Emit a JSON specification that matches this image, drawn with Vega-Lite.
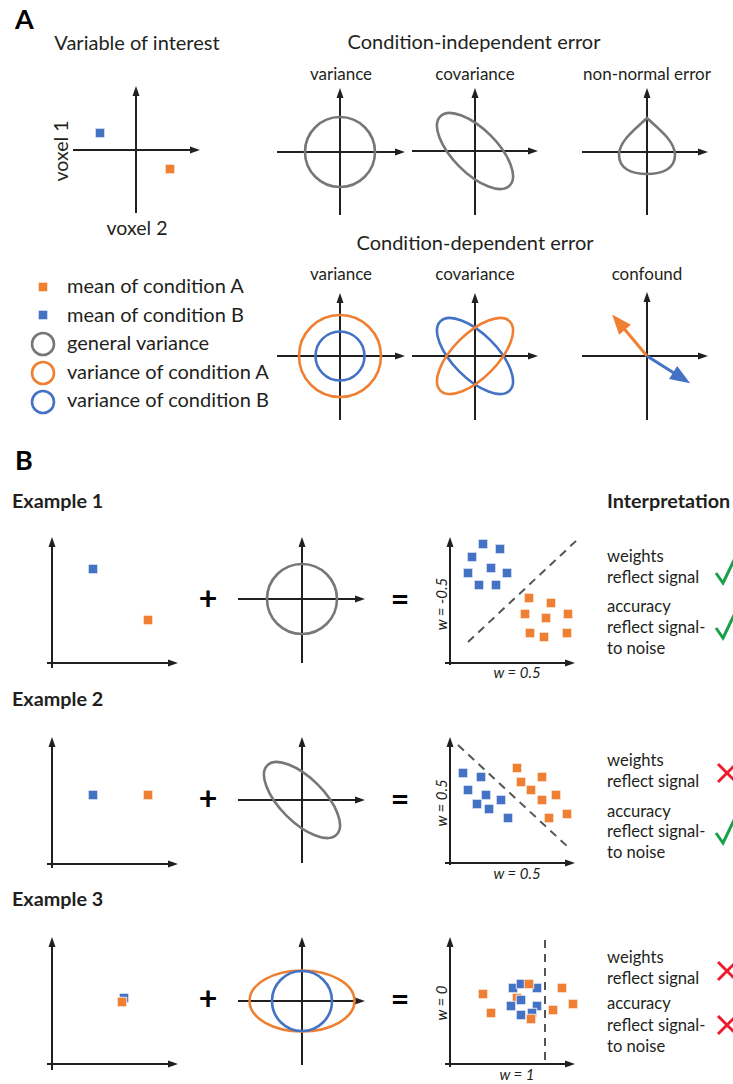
{
"$schema":"https://vega.github.io/schema/vega-lite/v6.json",
"width":733,"height":1084,"padding":0,"autosize":{"type":"none"},
"background":"#ffffff",
"config":{"view":{"stroke":null},"font":"Lato"},
"datasets":{
"axes":[
{"x":136,"y":213,"x2":136,"y2":89,"ang":270},{"x":73,"y":150,"x2":197,"y2":150,"ang":0},
{"x":340,"y":215,"x2":340,"y2":91,"ang":270},{"x":277,"y":152,"x2":402,"y2":152,"ang":0},
{"x":475,"y":215,"x2":475,"y2":91,"ang":270},{"x":412,"y":151,"x2":535,"y2":151,"ang":0},
{"x":647,"y":215,"x2":647,"y2":91,"ang":270},{"x":582,"y":152,"x2":705,"y2":152,"ang":0},
{"x":340,"y":420,"x2":340,"y2":296,"ang":270},{"x":277,"y":356,"x2":402,"y2":356,"ang":0},
{"x":475,"y":420,"x2":475,"y2":296,"ang":270},{"x":412,"y":356,"x2":535,"y2":356,"ang":0},
{"x":647,"y":420,"x2":647,"y2":295,"ang":270},{"x":582,"y":356,"x2":705,"y2":356,"ang":0},
{"x":52,"y":668,"x2":52,"y2":540,"ang":270},{"x":47,"y":663,"x2":175,"y2":663,"ang":0},
{"x":302,"y":663,"x2":302,"y2":540,"ang":270},{"x":238,"y":599,"x2":362,"y2":599,"ang":0},
{"x":450,"y":665,"x2":450,"y2":540,"ang":270},{"x":445,"y":663,"x2":572,"y2":663,"ang":0},
{"x":52,"y":868,"x2":52,"y2":740,"ang":270},{"x":47,"y":864,"x2":175,"y2":864,"ang":0},
{"x":302,"y":863,"x2":302,"y2":740,"ang":270},{"x":238,"y":800,"x2":362,"y2":800,"ang":0},
{"x":450,"y":865,"x2":450,"y2":740,"ang":270},{"x":445,"y":863,"x2":572,"y2":863,"ang":0},
{"x":52,"y":1070,"x2":52,"y2":940,"ang":270},{"x":47,"y":1064,"x2":175,"y2":1064,"ang":0},
{"x":302,"y":1065,"x2":302,"y2":940,"ang":270},{"x":238,"y":1001,"x2":362,"y2":1001,"ang":0},
{"x":450,"y":1067,"x2":450,"y2":940,"ang":270},{"x":445,"y":1064,"x2":572,"y2":1064,"ang":0}
],
"confound":[
{"x":647,"y":356,"x2":616,"y2":319,"ang":230,"cond":"A"},
{"x":647,"y":356,"x2":685,"y2":380,"ang":32,"cond":"B"}
],
"outlines":[
{"x":340,"y":152,"r":35,"tilt":0,"cond":"general","kind":"circle"},
{"x":475,"y":151,"r":49,"tilt":45,"cond":"general","kind":"cov"},
{"x":647,"y":152,"r":34,"tilt":0,"cond":"general","kind":"drop"},
{"x":340,"y":356,"r":41,"tilt":0,"cond":"A","kind":"circle"},
{"x":340,"y":356,"r":24.5,"tilt":0,"cond":"B","kind":"circle"},
{"x":475,"y":356,"r":49,"tilt":45,"cond":"B","kind":"cov"},
{"x":475,"y":356,"r":49,"tilt":315,"cond":"A","kind":"cov"},
{"x":43,"y":344,"r":11,"tilt":0,"cond":"general","kind":"circle"},
{"x":43,"y":373,"r":11,"tilt":0,"cond":"A","kind":"circle"},
{"x":43,"y":402,"r":11,"tilt":0,"cond":"B","kind":"circle"},
{"x":302,"y":599,"r":35,"tilt":0,"cond":"general","kind":"circle"},
{"x":302,"y":800,"r":49,"tilt":45,"cond":"general","kind":"cov"},
{"x":302,"y":1001,"r":52.5,"tilt":0,"cond":"A","kind":"wide"},
{"x":302,"y":1001,"r":30,"tilt":0,"cond":"B","kind":"circle"}
],
"means":[
{"x":100,"y":133,"cond":"B"},{"x":170,"y":169,"cond":"A"},
{"x":43,"y":287,"cond":"A"},{"x":43,"y":315,"cond":"B"},
{"x":93,"y":569,"cond":"B"},{"x":148,"y":620,"cond":"A"},
{"x":93,"y":795,"cond":"B"},{"x":148,"y":795,"cond":"A"},
{"x":124,"y":998,"cond":"B"},{"x":122,"y":1002,"cond":"A"},
{"x":483,"y":544,"cond":"B"},{"x":500,"y":549,"cond":"B"},{"x":472,"y":557,"cond":"B"},{"x":468,"y":573,"cond":"B"},
{"x":491,"y":568,"cond":"B"},{"x":507,"y":573,"cond":"B"},{"x":479,"y":585,"cond":"B"},{"x":496,"y":585,"cond":"B"},
{"x":529,"y":598,"cond":"A"},{"x":551,"y":603,"cond":"A"},{"x":525,"y":614,"cond":"A"},{"x":546,"y":618,"cond":"A"},
{"x":568,"y":614,"cond":"A"},{"x":530,"y":633,"cond":"A"},{"x":544,"y":637,"cond":"A"},{"x":567,"y":633,"cond":"A"},
{"x":463,"y":773,"cond":"B"},{"x":481,"y":777,"cond":"B"},{"x":468,"y":790,"cond":"B"},{"x":486,"y":795,"cond":"B"},
{"x":501,"y":800,"cond":"B"},{"x":477,"y":804,"cond":"B"},{"x":489,"y":809,"cond":"B"},{"x":508,"y":818,"cond":"B"},
{"x":517,"y":768,"cond":"A"},{"x":521,"y":782,"cond":"A"},{"x":542,"y":777,"cond":"A"},{"x":531,"y":790,"cond":"A"},
{"x":542,"y":800,"cond":"A"},{"x":556,"y":795,"cond":"A"},{"x":549,"y":818,"cond":"A"},{"x":567,"y":814,"cond":"A"},
{"x":517,"y":998,"cond":"A"},
{"x":513,"y":988,"cond":"B"},{"x":521,"y":984,"cond":"B"},{"x":537,"y":988,"cond":"B"},{"x":521,"y":1000,"cond":"B"},
{"x":511,"y":1006,"cond":"B"},{"x":537,"y":1006,"cond":"B"},{"x":521,"y":1015,"cond":"B"},{"x":532,"y":1013,"cond":"B"},
{"x":483,"y":994,"cond":"A"},{"x":491,"y":1013,"cond":"A"},{"x":529,"y":984,"cond":"A"},{"x":531,"y":1019,"cond":"A"},
{"x":562,"y":988,"cond":"A"},{"x":573,"y":1004,"cond":"A"},{"x":553,"y":1010,"cond":"A"}
],
"bounds":[
{"x":468,"y":642,"x2":577,"y2":540},
{"x":458,"y":745,"x2":568,"y2":847},
{"x":545,"y":940,"x2":545,"y2":1062}
],
"checks":[
{"id":1,"seq":1,"x":716,"y":573},{"id":1,"seq":2,"x":723,"y":583},{"id":1,"seq":3,"x":736,"y":556},
{"id":2,"seq":1,"x":716,"y":628},{"id":2,"seq":2,"x":723,"y":638},{"id":2,"seq":3,"x":736,"y":611},
{"id":3,"seq":1,"x":716,"y":833},{"id":3,"seq":2,"x":723,"y":843},{"id":3,"seq":3,"x":736,"y":816}
],
"crosses":[
{"x":718,"y":764,"x2":736,"y2":782},{"x":718,"y":782,"x2":736,"y2":764},
{"x":718,"y":962,"x2":736,"y2":980},{"x":718,"y":980,"x2":736,"y2":962},
{"x":718,"y":1016,"x2":736,"y2":1034},{"x":718,"y":1034,"x2":736,"y2":1016}
],
"labels":[
{"role":"letter","t":"A","x":15,"y":29},{"role":"letter","t":"B","x":15,"y":470},
{"role":"title","t":"Variable of interest","x":137,"y":50},
{"role":"title","t":"Condition-independent error","x":474,"y":49},
{"role":"title","t":"Condition-dependent error","x":475,"y":250},
{"role":"sub","t":"variance","x":341,"y":80},{"role":"sub","t":"covariance","x":475,"y":80},{"role":"sub","t":"non-normal error","x":647,"y":80},
{"role":"sub","t":"variance","x":341,"y":280},{"role":"sub","t":"covariance","x":475,"y":280},{"role":"sub","t":"confound","x":647,"y":280},
{"role":"legend","t":"mean of condition A","x":67,"y":293},
{"role":"legend","t":"mean of condition B","x":67,"y":322},
{"role":"legend","t":"general variance","x":67,"y":350},
{"role":"legend","t":"variance of condition A","x":67,"y":379},
{"role":"legend","t":"variance of condition B","x":67,"y":407},
{"role":"axis","t":"voxel 2","x":137,"y":235},
{"role":"axisrot","t":"voxel 1","x":68,"y":151},
{"role":"example","t":"Example 1","x":12,"y":508},
{"role":"example","t":"Example 2","x":12,"y":706},
{"role":"example","t":"Example 3","x":12,"y":906},
{"role":"example","t":"Interpretation","x":607,"y":508},
{"role":"op","t":"+","x":208,"y":600},{"role":"op","t":"+","x":208,"y":800},{"role":"op","t":"+","x":208,"y":1000},
{"role":"op","t":"=","x":400,"y":601},{"role":"op","t":"=","x":400,"y":801},{"role":"op","t":"=","x":400,"y":1001},
{"role":"interp","t":"weights","x":607,"y":562},
{"role":"interp","t":"reflect signal","x":607,"y":583},
{"role":"interp","t":"accuracy","x":607,"y":612},
{"role":"interp","t":"reflect signal-","x":607,"y":633},
{"role":"interp","t":"to noise","x":607,"y":654},
{"role":"interp","t":"weights","x":607,"y":766},
{"role":"interp","t":"reflect signal","x":607,"y":787},
{"role":"interp","t":"accuracy","x":607,"y":817},
{"role":"interp","t":"reflect signal-","x":607,"y":837},
{"role":"interp","t":"to noise","x":607,"y":858},
{"role":"interp","t":"weights","x":607,"y":963},
{"role":"interp","t":"reflect signal","x":607,"y":984},
{"role":"interp","t":"accuracy","x":607,"y":1009},
{"role":"interp","t":"reflect signal-","x":607,"y":1031},
{"role":"interp","t":"to noise","x":607,"y":1052},
{"role":"wlab","t":"w = 0.5","x":517,"y":678},
{"role":"wlab","t":"w = 0.5","x":517,"y":879},
{"role":"wlab","t":"w = 1","x":517,"y":1080},
{"role":"wlabrot","t":"w = -0.5","x":447,"y":604},
{"role":"wlabrot","t":"w = 0.5","x":447,"y":803},
{"role":"wlabrot","t":"w = 0","x":447,"y":1003}
]
},
"encoding":{
"x":{"field":"x","type":"quantitative","scale":{"domain":[0,733],"nice":false,"zero":false},"axis":null},
"y":{"field":"y","type":"quantitative","scale":{"domain":[0,1084],"nice":false,"zero":false,"reverse":true},"axis":null}
},
"layer":[
{"data":{"name":"axes"},"mark":{"type":"rule","color":"#231f20","strokeWidth":2},
 "encoding":{"x2":{"field":"x2"},"y2":{"field":"y2"}}},
{"data":{"name":"axes"},"mark":{"type":"point","shape":"M0.43,0L-1,-0.5L-1,0.5Z","filled":true,"color":"#231f20","opacity":1,"size":196,"strokeWidth":0},
 "encoding":{"x":{"field":"x2","type":"quantitative","axis":null},"y":{"field":"y2","type":"quantitative","axis":null},
 "angle":{"field":"ang","type":"quantitative","scale":null}}},
{"data":{"name":"confound"},"mark":{"type":"rule","strokeWidth":3},
 "encoding":{"x2":{"field":"x2"},"y2":{"field":"y2"},
 "color":{"field":"cond","type":"nominal","legend":null,"scale":{"domain":["A","B","general"],"range":["#ef8033","#4472c4","#777777"]}}}},
{"data":{"name":"confound"},"mark":{"type":"point","shape":"M0.43,0L-1,-0.55L-1,0.55Z","filled":true,"opacity":1,"size":784,"strokeWidth":0},
 "encoding":{"x":{"field":"x2","type":"quantitative","axis":null},"y":{"field":"y2","type":"quantitative","axis":null},
 "angle":{"field":"ang","type":"quantitative","scale":null},
 "color":{"field":"cond","type":"nominal","legend":null,"scale":{"domain":["A","B","general"],"range":["#ef8033","#4472c4","#777777"]}}}},
{"data":{"name":"outlines"},"mark":{"type":"point","filled":false,"opacity":1,"strokeWidth":2.6},
 "encoding":{
 "stroke":{"field":"cond","type":"nominal","legend":null,"scale":{"domain":["A","B","general"],"range":["#ef8033","#4472c4","#777777"]}},
 "shape":{"field":"kind","type":"nominal","legend":null,"scale":{"domain":["circle","cov","wide","drop"],"range":["circle","M-1,0A1,0.45 0 1,1 1,0A1,0.45 0 1,1 -1,0Z","M-1,0A1,0.58 0 1,1 1,0A1,0.58 0 1,1 -1,0Z","M0,-1C0.235,-0.765 0.824,-0.353 0.824,0.088C0.824,0.5 0.441,0.647 0,0.647C-0.441,0.647 -0.824,0.5 -0.824,0.088C-0.824,-0.353 -0.235,-0.765 0,-1Z"]}},
 "size":{"field":"r","type":"quantitative","legend":null,"scale":{"type":"pow","exponent":2,"domain":[0,100],"range":[0,40000]}},
 "angle":{"field":"tilt","type":"quantitative","scale":null}}},
{"data":{"name":"means"},"mark":{"type":"point","shape":"square","filled":true,"opacity":1,"size":90,"stroke":"#ffffff","strokeWidth":0.8},
 "encoding":{"fill":{"field":"cond","type":"nominal","legend":null,"scale":{"domain":["A","B","general"],"range":["#ef8033","#4472c4","#777777"]}}}},
{"data":{"name":"bounds"},"mark":{"type":"rule","color":"#555555","strokeWidth":2,"strokeDash":[8,6]},
 "encoding":{"x2":{"field":"x2"},"y2":{"field":"y2"}}},
{"data":{"name":"checks"},"mark":{"type":"line","color":"#1aa04a","strokeWidth":3,"strokeJoin":"miter"},
 "encoding":{"detail":{"field":"id","type":"nominal"},"order":{"field":"seq","type":"quantitative"}}},
{"data":{"name":"crosses"},"mark":{"type":"rule","color":"#ec1c2c","strokeWidth":3},
 "encoding":{"x2":{"field":"x2"},"y2":{"field":"y2"}}},
{"data":{"name":"labels"},"transform":[{"filter":"datum.role==='letter'"}],
 "mark":{"type":"text","fontSize":27,"fontWeight":"bold","align":"left","baseline":"alphabetic","color":"#000000"},
 "encoding":{"text":{"field":"t"}}},
{"data":{"name":"labels"},"transform":[{"filter":"datum.role==='title'"}],
 "mark":{"type":"text","fontSize":20,"align":"center","baseline":"alphabetic","color":"#231f20"},
 "encoding":{"text":{"field":"t"}}},
{"data":{"name":"labels"},"transform":[{"filter":"datum.role==='sub'"}],
 "mark":{"type":"text","fontSize":17,"align":"center","baseline":"alphabetic","color":"#231f20"},
 "encoding":{"text":{"field":"t"}}},
{"data":{"name":"labels"},"transform":[{"filter":"datum.role==='axis'"}],
 "mark":{"type":"text","fontSize":19.5,"align":"center","baseline":"alphabetic","color":"#231f20"},
 "encoding":{"text":{"field":"t"}}},
{"data":{"name":"labels"},"transform":[{"filter":"datum.role==='legend'"}],
 "mark":{"type":"text","fontSize":20,"align":"left","baseline":"alphabetic","color":"#231f20"},
 "encoding":{"text":{"field":"t"}}},
{"data":{"name":"labels"},"transform":[{"filter":"datum.role==='axisrot'"}],
 "mark":{"type":"text","fontSize":19.5,"align":"center","baseline":"alphabetic","angle":270,"color":"#231f20"},
 "encoding":{"text":{"field":"t"}}},
{"data":{"name":"labels"},"transform":[{"filter":"datum.role==='example'"}],
 "mark":{"type":"text","fontSize":19.8,"fontWeight":"bold","align":"left","baseline":"alphabetic","color":"#231f20"},
 "encoding":{"text":{"field":"t"}}},
{"data":{"name":"labels"},"transform":[{"filter":"datum.role==='op'"}],
 "mark":{"type":"text","fontSize":32,"fontWeight":"bold","align":"center","baseline":"middle","color":"#000000"},
 "encoding":{"text":{"field":"t"}}},
{"data":{"name":"labels"},"transform":[{"filter":"datum.role==='interp'"}],
 "mark":{"type":"text","fontSize":16.6,"align":"left","baseline":"alphabetic","color":"#231f20"},
 "encoding":{"text":{"field":"t"}}},
{"data":{"name":"labels"},"transform":[{"filter":"datum.role==='wlab'"}],
 "mark":{"type":"text","fontSize":15,"fontStyle":"italic","align":"center","baseline":"alphabetic","color":"#231f20"},
 "encoding":{"text":{"field":"t"}}},
{"data":{"name":"labels"},"transform":[{"filter":"datum.role==='wlabrot'"}],
 "mark":{"type":"text","fontSize":15,"fontStyle":"italic","align":"center","baseline":"alphabetic","angle":270,"color":"#231f20"},
 "encoding":{"text":{"field":"t"}}}
]
}
